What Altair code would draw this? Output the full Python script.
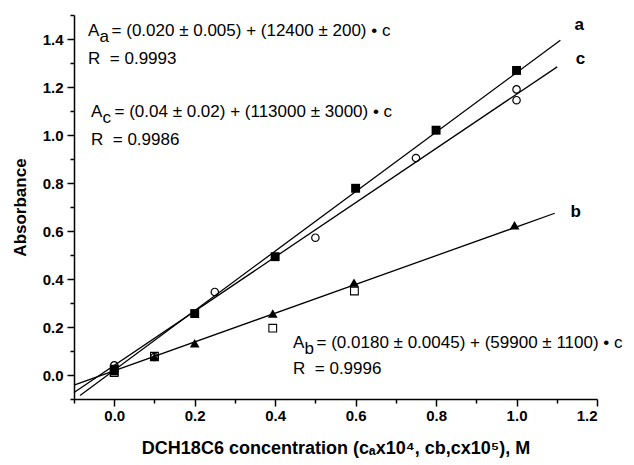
import altair as alt
import pandas as pd

# ---- data ----
a_x = [0.0, 0.2, 0.4, 0.6, 0.8, 1.0]
a_y = [0.024, 0.256, 0.493, 0.778, 1.02, 1.269]

c_x = [0.0, 0.1, 0.25, 0.5, 0.75, 1.0, 1.0]
c_y = [0.04, 0.075, 0.346, 0.572, 0.904, 1.19, 1.145]

b_x = [0.0, 0.1, 0.2, 0.394, 0.596, 0.995]
b_y = [0.015, 0.075, 0.132, 0.256, 0.385, 0.624]

bo_x = [0.0, 0.1, 0.394, 0.597]
bo_y = [0.01, 0.078, 0.195, 0.35]

# fitted lines (end points)
fit_a_x = [-0.085, 1.109]
fit_a_y = [-0.085, 1.395]
fit_c_x = [-0.1, 1.101]
fit_c_y = [-0.073, 1.284]
fit_b_x = [-0.1, 1.095]
fit_b_y = [-0.042, 0.674]

line_labels = ["a", "c", "b"]
line_label_x = [1.144, 1.147, 1.134]
line_label_y = [1.458, 1.315, 0.678]

NB = "\u00a0"
eq_main = ["A", "A", "A"]
eq_sub = ["a", "c", "b"]
eq_rest = ["= (0.020 ± 0.005) + (12400 ± 200) • c",
           "= (0.04 ± 0.02) + (113000 ± 3000) • c",
           "= (0.0180 ± 0.0045) + (59900 ± 1100) • c"]
eq_r = ["R" + NB + " = 0.9993", "R" + NB + " = 0.9986", "R" + NB + " = 0.9996"]
eq_x = [-0.065, -0.0577, 0.4445]
eq_y = [1.435, 1.094, 0.135]
r_y = [1.315, 0.981, 0.027]

FONT = "Liberation Sans"

xs = alt.Scale(domain=[-0.1, 1.2], nice=False, zero=False)
ys = alt.Scale(domain=[-0.1, 1.5], nice=False, zero=False)

ticks01 = [round(-0.1 + 0.1 * i, 1) for i in range(14)]
yticks01 = [round(-0.1 + 0.1 * i, 1) for i in range(17)]
label_expr = "(round(datum.value*10) % 2 == 0 && datum.value > -0.05) ? format(datum.value, '.1f') : ''"
tick_cond = {"condition": {"test": "round(datum.value*10) % 2 != 0", "value": 4}, "value": 7}

x_axis = alt.Axis(values=ticks01, labelExpr=label_expr, tickSize=tick_cond,
                  title="DCH18C6 concentration (cₐx10⁴, cb,cx10⁵), M",
                  labelPadding=2, titlePadding=16, titleFontSize=18)
y_axis = alt.Axis(values=yticks01, labelExpr=label_expr, tickSize=tick_cond,
                  title="Absorbance", labelPadding=4, titlePadding=13)

df_a = pd.DataFrame({"x": a_x, "y": a_y})
df_c = pd.DataFrame({"x": c_x, "y": c_y})
df_b = pd.DataFrame({"x": b_x, "y": b_y})
df_bo = pd.DataFrame({"x": bo_x, "y": bo_y})
df_fit = pd.DataFrame({
    "x": fit_a_x + fit_c_x + fit_b_x,
    "y": fit_a_y + fit_c_y + fit_b_y,
    "s": ["a", "a", "c", "c", "b", "b"],
})
df_lab = pd.DataFrame({"x": line_label_x, "y": line_label_y, "t": line_labels})
df_eq = pd.DataFrame({"x": eq_x, "y": eq_y, "main": eq_main, "sub": eq_sub,
                      "rest": eq_rest, "ry": r_y, "r": eq_r})

X = alt.X("x:Q", scale=xs, axis=x_axis)
Y = alt.Y("y:Q", scale=ys, axis=y_axis)

lines = alt.Chart(df_fit).mark_line(color="black", strokeWidth=1.3).encode(
    x=X, y=Y, detail="s:N")

open_sq = alt.Chart(df_bo).mark_point(shape="square", filled=False, color="black",
                                       strokeWidth=1.1, size=60, opacity=1).encode(x=X, y=Y)
circles = alt.Chart(df_c).mark_point(shape="circle", filled=False, color="black",
                                      strokeWidth=1.2, size=55, opacity=1).encode(x=X, y=Y)
squares = alt.Chart(df_a).mark_point(shape="square", filled=True, color="black",
                                      size=80, opacity=1).encode(x=X, y=Y)
tris = alt.Chart(df_b).mark_point(shape="triangle-up", filled=True, color="black",
                                   size=95, opacity=1).encode(x=X, y=Y)

labels = alt.Chart(df_lab).mark_text(font=FONT, fontSize=17, fontWeight="bold",
                                      align="left", baseline="middle", color="black").encode(
    x=X, y=Y, text="t:N")

eq_A = alt.Chart(df_eq).mark_text(font=FONT, fontSize=17, align="left",
                                   baseline="middle", color="black").encode(x=X, y=Y, text="main:N")
eq_S = alt.Chart(df_eq).mark_text(font=FONT, fontSize=17, align="left", dx=11.5, dy=6,
                                   baseline="middle", color="black").encode(x=X, y=Y, text="sub:N")
eq_R = alt.Chart(df_eq).mark_text(font=FONT, fontSize=17, align="left", dx=23.5,
                                   baseline="middle", color="black").encode(x=X, y=Y, text="rest:N")
eq_Rv = alt.Chart(df_eq).mark_text(font=FONT, fontSize=17, align="left",
                                    baseline="middle", color="black").encode(
    x=X, y=alt.Y("ry:Q", scale=ys, axis=y_axis), text="r:N")

chart = alt.layer(lines, open_sq, circles, squares, tris, labels, eq_A, eq_S, eq_R, eq_Rv).properties(
    width=523, height=384,
    autosize=alt.AutoSizeParams(type="none"),
    padding={"left": 74, "top": 15, "right": 37, "bottom": 66},
    background="white",
).configure_view(stroke=None).configure_axis(
    grid=False, domainColor="black", domainWidth=1.5, tickColor="black", tickWidth=1.5,
    labelFont=FONT, labelFontWeight="bold", labelFontSize=15, labelColor="black",
    titleFont=FONT, titleFontWeight="bold", titleFontSize=17, titleColor="black",
)

chart.save("out.html", embed_options={"renderer": "svg", "actions": False})
